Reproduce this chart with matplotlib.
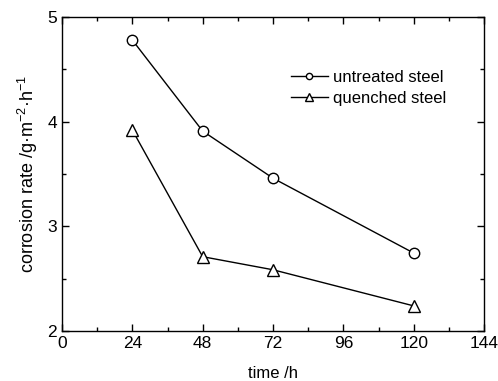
import matplotlib
matplotlib.use("Agg")
import matplotlib.pyplot as plt
from matplotlib.ticker import MultipleLocator

plt.rcParams['font.family'] = ['Liberation Sans', 'DejaVu Sans']
plt.rcParams['mathtext.fontset'] = 'custom'
plt.rcParams['mathtext.rm'] = 'Liberation Sans'

time_h = [24, 48, 72, 120]
untreated = [4.78, 3.91, 3.46, 2.745]
quenched = [3.92, 2.71, 2.585, 2.24]

fig = plt.figure(figsize=(4.98, 3.81), dpi=100)
ax = fig.add_axes([62/498, 50/381, 422/498, 314/381])

ax.plot(time_h, untreated, '-o', color='black', lw=1, ms=7.5, mfc='white', mew=1,
        label='untreated steel')
ax.plot(time_h, quenched, '-^', color='black', lw=1, ms=8.5, mfc='white', mew=1,
        label='quenched steel')

ax.set_xlim(0, 144)
ax.set_ylim(2, 5)
ax.xaxis.set_major_locator(MultipleLocator(24))
ax.xaxis.set_minor_locator(MultipleLocator(12))
ax.yaxis.set_major_locator(MultipleLocator(1))
ax.yaxis.set_minor_locator(MultipleLocator(0.5))
ax.tick_params(which='both', direction='in', top=True, right=True, labelsize=12.5, width=1)
ax.tick_params(which='major', length=5)
ax.tick_params(which='minor', length=3)
for s in ax.spines.values():
    s.set_linewidth(1)

ax.set_xlabel('time /h', fontsize=12, labelpad=11)
ax.set_ylabel('corrosion rate /g·m$^{\\mathregular{-2}}$·h$^{\\mathregular{-1}}$', fontsize=13, labelpad=5)

leg = ax.legend(loc='upper right', bbox_to_anchor=(0.945, 0.88), frameon=False, fontsize=12,
                markerscale=0.6, handlelength=2.2, handletextpad=0.3, labelspacing=0.35)

fig.savefig('out.png', dpi=100)
